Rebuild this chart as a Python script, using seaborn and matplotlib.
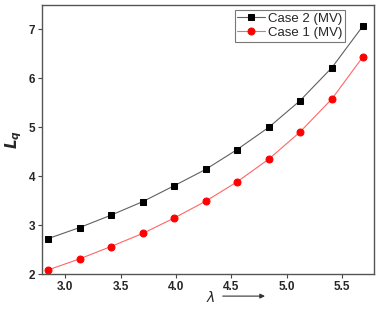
import numpy as np
import pandas as pd
import matplotlib
matplotlib.use('Agg')
import matplotlib.pyplot as plt
import seaborn as sns

# data
lam = [2.84, 3.13, 3.41, 3.70, 3.98, 4.27, 4.55, 4.84, 5.12, 5.41, 5.69]
lq_case2 = [2.72, 2.95, 3.20, 3.48, 3.80, 4.14, 4.54, 5.00, 5.54, 6.22, 7.07]
lq_case1 = [2.08, 2.31, 2.56, 2.83, 3.14, 3.49, 3.88, 4.35, 4.90, 5.58, 6.44]
x_ticks = [3.0, 3.5, 4.0, 4.5, 5.0, 5.5]
y_ticks = [2, 3, 4, 5, 6, 7]

df2 = pd.DataFrame({'lam': lam, 'Lq': lq_case2})
df1 = pd.DataFrame({'lam': lam, 'Lq': lq_case1})

sns.set_style('ticks')
plt.rcParams['font.family'] = ['Liberation Sans', 'DejaVu Sans']

fig = plt.figure(figsize=(3.82, 3.10), dpi=100)
ax = fig.add_axes([0.110, 0.116, 0.869, 0.868])

sns.lineplot(x='lam', y='Lq', data=df2, color='#606060', linewidth=0.8,
             marker='s', markersize=4.6, markerfacecolor='black',
             markeredgecolor='black', label='Case 2 (MV)', ax=ax)
sns.lineplot(x='lam', y='Lq', data=df1, color='#ff6666', linewidth=0.8,
             marker='o', markersize=5.0, markerfacecolor='red',
             markeredgecolor='red', label='Case 1 (MV)', ax=ax)

ax.set_xlim(2.79, 5.79)
ax.set_ylim(2, 7.5)
ax.set_xticks(x_ticks)
ax.set_yticks(y_ticks)
ax.set_xticklabels(['%.1f' % v for v in x_ticks], fontsize=8.5, fontweight='bold')
ax.set_yticklabels([str(v) for v in y_ticks], fontsize=8.5, fontweight='bold')
ax.tick_params(direction='out', length=3, width=0.8, color='#444444', pad=2)
for s in ax.spines.values():
    s.set_color('#555555')
    s.set_linewidth(1.0)

ax.set_xlabel('')
ax.set_ylabel(r'$\mathbfit{L}_{\mathbfit{q}}$', fontsize=11, labelpad=3)

# lambda label with arrow
ax.text(0.508, -0.086, r'$\lambda$', transform=ax.transAxes, ha='center',
        va='center', fontsize=10)
ax.annotate('', xy=(0.68, -0.082), xytext=(0.536, -0.082),
            xycoords='axes fraction', textcoords='axes fraction',
            arrowprops=dict(arrowstyle='-|>', color='#333333', lw=0.8,
                            mutation_scale=7))

leg = ax.legend(loc='upper right', bbox_to_anchor=(0.912, 0.982), fontsize=9.5,
                frameon=True, fancybox=False, handlelength=2.1,
                borderpad=0.2, labelspacing=0.15, handletextpad=0.2,
                borderaxespad=0.0)
leg.get_frame().set_edgecolor('#555555')
leg.get_frame().set_linewidth(0.8)

fig.savefig('out.png', dpi=100)
